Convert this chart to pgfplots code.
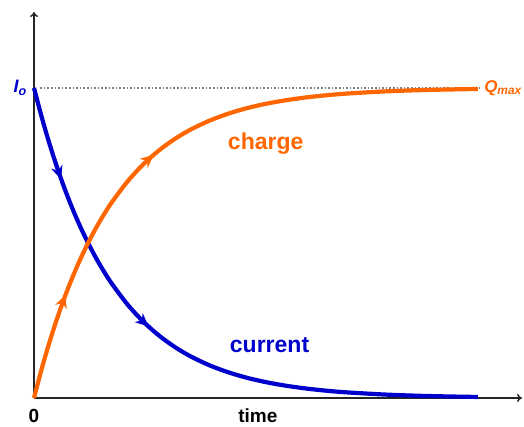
\documentclass[border=0pt]{standalone}
\usepackage{pgfplots}
\pgfplotsset{compat=1.18}
\usepackage{fontspec}
\setmainfont{Liberation Sans}
\usetikzlibrary{arrows.meta,decorations.markings}
\definecolor{cblue}{RGB}{0,0,204}
\definecolor{corange}{RGB}{255,102,0}
\pgfplotstableread{
t v
0 1
0.1 0.9048
0.2 0.8187
0.3 0.7408
0.4 0.6703
0.5 0.6065
0.6 0.5488
0.7 0.4966
0.8 0.4493
0.9 0.4066
1.0 0.3679
1.2 0.3012
1.4 0.2466
1.6 0.2019
1.8 0.1653
2.0 0.1353
2.25 0.1054
2.5 0.0821
2.75 0.0639
3.0 0.0498
3.25 0.0388
3.5 0.0302
3.75 0.0235
4.0 0.0183
4.5 0.0111
5.0 0.0067
5.5 0.0041
5.69 0.0034
}\current
\pgfplotstableread{
t v
0 0
0.1 0.0952
0.2 0.1813
0.3 0.2592
0.4 0.3297
0.5 0.3935
0.6 0.4512
0.7 0.5034
0.8 0.5507
0.9 0.5934
1.0 0.6321
1.2 0.6988
1.4 0.7534
1.6 0.7981
1.8 0.8347
2.0 0.8647
2.25 0.8946
2.5 0.9179
2.75 0.9361
3.0 0.9502
3.25 0.9612
3.5 0.9698
3.75 0.9765
4.0 0.9817
4.5 0.9889
5.0 0.9933
5.5 0.9959
5.69 0.9966
}\charge
\begin{document}
\begin{tikzpicture}
\begin{axis}[
  name=ax,
  scale only axis,
  width=488pt, height=386pt,
  xmin=0, xmax=6.256, ymin=0, ymax=1.245,
  axis lines=left,
  axis line style={black!85, line width=1.5pt, -{To[length=5pt,width=8pt]}},
  xtick=\empty, ytick=\empty,
  clip=false,
]
\addplot[gray, dotted, line width=1.6pt] coordinates {(0.08,1) (5.72,1)};
\addplot[cblue, line width=4.2pt, smooth, no markers,
  postaction={decorate},
  decoration={markings,
    mark=at position 95pt with {\arrow{Stealth[length=13pt,width=12pt]}},
    mark=at position 268pt with {\arrow{Stealth[length=13pt,width=12pt]}}}]
  table[x=t,y=v] {\current};
\addplot[corange, line width=4.2pt, smooth, no markers,
  postaction={decorate},
  decoration={markings,
    mark=at position 108pt with {\arrow{Stealth[length=13pt,width=12pt]}},
    mark=at position 275pt with {\arrow{Stealth[length=13pt,width=12pt]}}}]
  table[x=t,y=v] {\charge};
\node[corange, font=\fontsize{23}{26}\selectfont\bfseries] at (axis cs:2.97,0.82) {charge};
\node[cblue, font=\fontsize{23}{26}\selectfont\bfseries] at (axis cs:3.02,0.17) {current};
\node[anchor=north, font=\fontsize{19}{21}\selectfont\bfseries, inner sep=0pt] at ([yshift=-11pt]axis cs:0,0) {0};
\node[anchor=north, font=\fontsize{19}{21}\selectfont\bfseries, inner sep=0pt] at ([yshift=-11pt]axis cs:2.87,0) {time};
\node[anchor=east, cblue, font=\fontsize{18}{20}\selectfont\bfseries\itshape, inner sep=0pt] at ([xshift=-7pt]axis cs:0,1) {I\textsubscript{o}};
\node[anchor=east, corange, font=\fontsize{17}{19}\selectfont\bfseries\itshape, inner sep=0pt] at ([xshift=488pt]axis cs:0,1) {Q\textsubscript{max}};
\end{axis}
\pgfresetboundingbox
\useasboundingbox ([shift={(-34pt,-29pt)}]ax.south west) rectangle ([shift={(490pt,398pt)}]ax.south west);
\end{tikzpicture}
\end{document}
